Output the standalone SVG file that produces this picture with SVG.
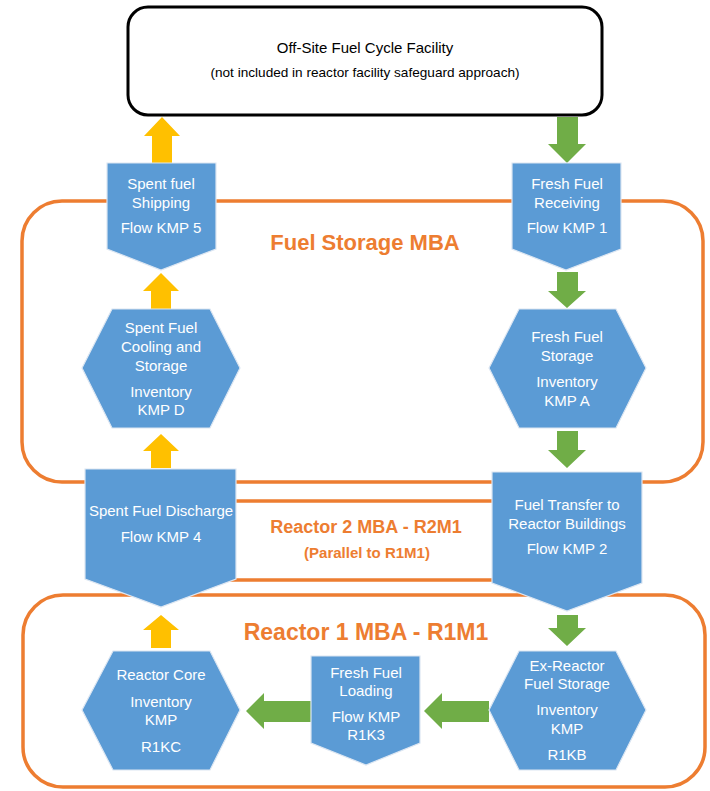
<svg xmlns="http://www.w3.org/2000/svg" width="710" height="791" viewBox="0 0 710 791">
<style>
.mba{fill:none;stroke:#ED7D31;stroke-width:3.5}
.node{fill:#5B9BD5;stroke:#DCE6F2;stroke-width:1.2}
.t{font-family:"Liberation Sans",Arial,sans-serif;font-size:15px;fill:#FFFFFF;text-anchor:middle}
.lbl{font-family:"Liberation Sans",Arial,sans-serif;font-weight:bold;fill:#ED7D31;text-anchor:middle}
.bk{font-family:"Liberation Sans",Arial,sans-serif;fill:#000000;text-anchor:middle}
.ya{fill:#FFC000}
.ga{fill:#70AD47}
</style>
<rect width="710" height="791" fill="#FFFFFF"/>
<g id="mba-fuel-storage">
<rect class="mba" x="22" y="201" width="681" height="281" rx="40"/>
<text class="lbl" x="365" y="250" font-size="22">Fuel Storage MBA</text>
</g>
<g id="mba-reactor2">
<rect class="mba" x="120" y="501" width="470" height="79"/>
<text class="lbl" x="366" y="533" font-size="18">Reactor 2 MBA - R2M1</text>
<text class="lbl" x="367" y="558" font-size="15">(Parallel to R1M1)</text>
</g>
<g id="mba-reactor1">
<rect class="mba" x="23" y="595" width="682" height="192" rx="40"/>
<text class="lbl" x="366" y="640" font-size="23">Reactor 1 MBA - R1M1</text>
</g>
<g id="connectors">
<polygon class="ya" points="162,117 180,136 172,136 172,163 152,163 152,136 144,136"/>
<polygon class="ya" points="161,273 179,291 171,291 171,309 151,309 151,291 143,291"/>
<polygon class="ya" points="161,434 179,451 171,451 171,468 151,468 151,451 143,451"/>
<polygon class="ya" points="161,615 179,630 171,630 171,648 151,648 151,630 143,630"/>
<polygon class="ga" points="557,117 578,117 578,144 586,144 567,163 548,144 557,144"/>
<polygon class="ga" points="557,272 578,272 578,291 586,291 567,308 548,291 557,291"/>
<polygon class="ga" points="557,431 578,431 578,450 586,450 567,468 548,450 557,450"/>
<polygon class="ga" points="557,615 578,615 578,628 586,628 567,646 548,628 557,628"/>
<polygon class="ga" points="246,711 264,693 264,701 311,701 311,722 264,722 264,729"/>
<polygon class="ga" points="424,711 442,693 442,701 489,701 489,722 442,722 442,729"/>
</g>
<g id="offsite">
<rect x="128" y="7" width="474" height="108" rx="20" fill="#FFFFFF" stroke="#000000" stroke-width="3"/>
<text class="bk" x="365" y="53" font-size="15">Off-Site Fuel Cycle Facility</text>
<text class="bk" x="365" y="77" font-size="13.6">(not included in reactor facility safeguard approach)</text>
</g>
<g id="spent-shipping">
<polygon class="node" points="107,163 216,163 216,249 161,270 107,249"/>
<text class="t" x="161" y="189">Spent fuel</text>
<text class="t" x="161" y="208">Shipping</text>
<text class="t" x="161" y="233">Flow KMP 5</text>
</g>
<g id="fresh-receiving">
<polygon class="node" points="512,163 621,163 621,249 566,270 512,249"/>
<text class="t" x="567" y="189">Fresh Fuel</text>
<text class="t" x="567" y="208">Receiving</text>
<text class="t" x="567" y="233">Flow KMP 1</text>
</g>
<g id="spent-cooling">
<polygon class="node" points="82,368 112,309 210,309 240,368 210,428 112,428"/>
<text class="t" x="161" y="333">Spent Fuel</text>
<text class="t" x="161" y="352">Cooling and</text>
<text class="t" x="161" y="371">Storage</text>
<text class="t" x="161" y="397">Inventory</text>
<text class="t" x="161" y="415">KMP D</text>
</g>
<g id="fresh-storage">
<polygon class="node" points="489,368 519,309 616,309 646,368 616,428 519,428"/>
<text class="t" x="567" y="342">Fresh Fuel</text>
<text class="t" x="567" y="361">Storage</text>
<text class="t" x="567" y="387">Inventory</text>
<text class="t" x="567" y="406">KMP A</text>
</g>
<g id="spent-discharge">
<polygon class="node" points="85,469 236,469 236,579 161,607 85,579"/>
<text class="t" x="161" y="516">Spent Fuel Discharge</text>
<text class="t" x="161" y="542">Flow KMP 4</text>
</g>
<g id="fuel-transfer">
<polygon class="node" points="492,472 642,472 642,583 567,611 492,583"/>
<text class="t" x="567" y="510">Fuel Transfer to</text>
<text class="t" x="567" y="529">Reactor Buildings</text>
<text class="t" x="567" y="554">Flow KMP 2</text>
</g>
<g id="reactor-core">
<polygon class="node" points="82,710 113,651 210,651 240,710 210,770 113,770"/>
<text class="t" x="161" y="680">Reactor Core</text>
<text class="t" x="161" y="707">Inventory</text>
<text class="t" x="161" y="725">KMP</text>
<text class="t" x="161" y="752">R1KC</text>
</g>
<g id="fresh-loading">
<polygon class="node" points="311,656 420,656 420,743 366,765 311,743"/>
<text class="t" x="366" y="678">Fresh Fuel</text>
<text class="t" x="366" y="696">Loading</text>
<text class="t" x="366" y="722">Flow KMP</text>
<text class="t" x="366" y="740">R1K3</text>
</g>
<g id="ex-reactor">
<polygon class="node" points="489,710 519,651 616,651 646,710 616,770 519,770"/>
<text class="t" x="567" y="671">Ex-Reactor</text>
<text class="t" x="567" y="689">Fuel Storage</text>
<text class="t" x="567" y="715">Inventory</text>
<text class="t" x="567" y="734">KMP</text>
<text class="t" x="567" y="760">R1KB</text>
</g>
</svg>
